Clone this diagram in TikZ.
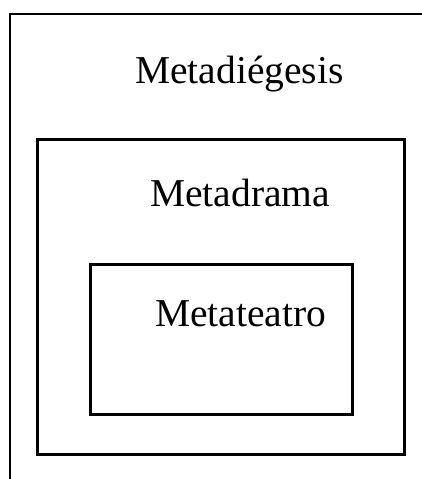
\documentclass[tikz,border=0pt]{standalone}
\usepackage{fontspec}
\setmainfont{Liberation Serif}
\begin{document}
\begin{tikzpicture}[x=1pt,y=-1pt,
  frame/.style={draw=black,line width=2.8pt},
  lbl/.style={anchor=base west,inner sep=0pt,font=\fontsize{39.5}{41}\selectfont}]
\useasboundingbox (0,0) rectangle (422,479);
\coordinate (otr) at (425,14);
\coordinate (otl) at (10,14);
\coordinate (obl) at (10,482);
\draw[frame] (otr) -- (otl) -- (obl);
\node[frame,draw,minimum width=367pt,minimum height=315pt,inner sep=0pt,anchor=north west] (mid) at (36,138) {};
\node[frame,draw,minimum width=262pt,minimum height=150pt,inner sep=0pt,anchor=north west] (inn) at (89,263) {};
\node[lbl] (t1) at (135,83) {Metadi\'egesis};
\node[lbl] (t2) at (150,206) {Metadrama};
\node[lbl] (t3) at (155,326) {Metateatro};
\end{tikzpicture}
\end{document}
